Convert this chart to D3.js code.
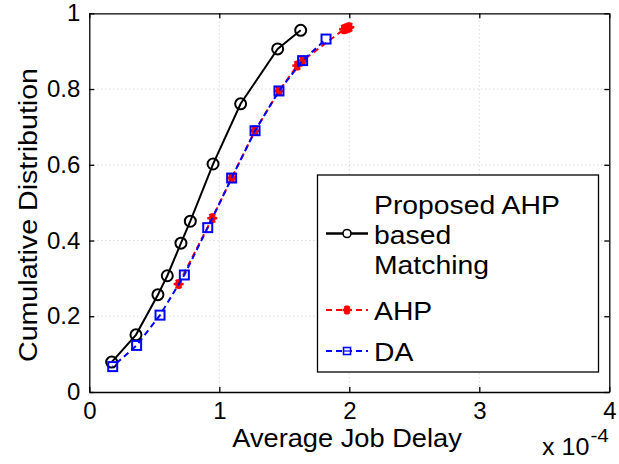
<!DOCTYPE html>
<html><head><meta charset="utf-8">
<script src="https://cdn.jsdelivr.net/npm/d3@7"></script>
<style>body{margin:0;background:#fff}svg{display:block}text{font-family:"Liberation Sans",Arial,sans-serif;fill:#000}</style>
</head><body><svg id="c" width="619" height="464"></svg>
<script>
const xTicks = [0, 1, 2, 3, 4];
const yTicks = [0, 0.2, 0.4, 0.6, 0.8, 1];
const yTickLabels = ["0", "0.2", "0.4", "0.6", "0.8", "1"];
const proposedX = [0.172, 0.359, 0.528, 0.600, 0.705, 0.777, 0.952, 1.164, 1.449, 1.626];
const proposedY = [0.079, 0.151, 0.257, 0.307, 0.393, 0.451, 0.602, 0.761, 0.906, 0.955];
const ahpX = [0.687, 0.946, 1.095, 1.275, 1.459, 1.600, 1.641, 1.960, 1.975, 1.990, 2.000];
const ahpY = [0.285, 0.459, 0.565, 0.690, 0.795, 0.862, 0.875, 0.958, 0.960, 0.962, 0.963];
const daX = [0.180, 0.364, 0.544, 0.731, 0.911, 1.095, 1.275, 1.459, 1.641, 1.821];
const daY = [0.067, 0.123, 0.203, 0.309, 0.434, 0.565, 0.690, 0.795, 0.875, 0.932];
const seriesNames = ["Proposed AHP based Matching", "AHP", "DA"];
const xLabel = "Average Job Delay";
const yLabel = "Cumulative Distribution";

const svg = d3.select("#c");
const L = 89.3, R = 609.3, T = 13.3, B = 392;
const x = d3.scaleLinear().domain([0, 4]).range([L, R]);
const y = d3.scaleLinear().domain([0, 1]).range([B, T]);
const SX = 1.09;

// grid
const g = svg.append("g");
g.selectAll(".gx").data(xTicks.slice(1, -1)).join("line")
  .attr("x1", d => x(d)).attr("x2", d => x(d)).attr("y1", T).attr("y2", B)
  .attr("stroke", "#c8c8c8").attr("stroke-width", 1).attr("stroke-dasharray", "1,3");
g.selectAll(".gy").data(yTicks.slice(1, -1)).join("line")
  .attr("y1", d => y(d)).attr("y2", d => y(d)).attr("x1", L).attr("x2", R)
  .attr("stroke", "#c8c8c8").attr("stroke-width", 1).attr("stroke-dasharray", "1,3");

// axes (inward ticks, box)
const tl = 5;
const axB = svg.append("g").attr("transform", `translate(0,${B})`)
  .call(d3.axisBottom(x).tickValues(xTicks).tickSizeInner(-tl).tickSizeOuter(0).tickPadding(10).tickFormat(d3.format("d")));
const axT = svg.append("g").attr("transform", `translate(0,${T})`)
  .call(d3.axisTop(x).tickValues(xTicks).tickSizeInner(-tl).tickSizeOuter(0).tickFormat(""));
const axL = svg.append("g").attr("transform", `translate(${L},0)`)
  .call(d3.axisLeft(y).tickValues(yTicks).tickSizeInner(-tl).tickSizeOuter(0).tickPadding(9).tickFormat((d, i) => yTickLabels[i]));
const axR = svg.append("g").attr("transform", `translate(${R},0)`)
  .call(d3.axisRight(y).tickValues(yTicks).tickSizeInner(-tl).tickSizeOuter(0).tickFormat(""));
[axB, axT, axL, axR].forEach(a => {
  a.select(".domain").attr("stroke", "#000").attr("stroke-width", 1.3);
  a.selectAll(".tick line").attr("stroke", "#000").attr("stroke-width", 1.3);
  a.selectAll("text").attr("font-size", 24).attr("fill", "#000").style("font-family", '"Liberation Sans",Arial,sans-serif');
});
axB.selectAll(".tick text").attr("dy", "0.7em");

// labels
svg.append("text").attr("transform", `translate(347,447) scale(${SX},1)`).attr("text-anchor", "middle")
  .attr("font-size", 25).text(xLabel);
svg.append("text").attr("transform", `translate(37,215) rotate(-90) scale(1.1,1)`).attr("text-anchor", "middle")
  .attr("font-size", 26).text(yLabel);
const ex = svg.append("text").attr("transform", `translate(542,455) scale(${SX},1)`).attr("font-size", 23);
ex.append("tspan").text("x 10");
ex.append("tspan").attr("dx", 1).attr("dy", -13).attr("font-size", 19).text("-4");

const line = d3.line().x(d => x(d[0])).y(d => y(d[1]));
const proposed = proposedX.map((v, i) => [v, proposedY[i]]);
const ahp = ahpX.map((v, i) => [v, ahpY[i]]);
const da = daX.map((v, i) => [v, daY[i]]);

function star(sel, cx, cy, r, color) {
  const gg = sel.append("g").attr("transform", `translate(${cx},${cy})`);
  gg.append("circle").attr("r", r * 0.7).attr("fill", color);
  [0, 60, 120].forEach(a => {
    const rad = a * Math.PI / 180;
    gg.append("line").attr("x1", -r * Math.cos(rad)).attr("y1", -r * Math.sin(rad))
      .attr("x2", r * Math.cos(rad)).attr("y2", r * Math.sin(rad))
      .attr("stroke", color).attr("stroke-width", 2.5);
  });
  gg.append("line").attr("x1", 0).attr("y1", -r).attr("x2", 0).attr("y2", r).attr("stroke", color).attr("stroke-width", 2.5);
}

// black
svg.append("path").datum(proposed).attr("d", line).attr("fill", "none").attr("stroke", "#000").attr("stroke-width", 2);
svg.selectAll(".pc").data(proposed).join("circle").attr("cx", d => x(d[0])).attr("cy", d => y(d[1]))
  .attr("r", 5.5).attr("fill", "none").attr("stroke", "#000").attr("stroke-width", 2);
// red
svg.append("path").datum(ahp).attr("d", line).attr("fill", "none").attr("stroke", "#ff0000").attr("stroke-width", 2)
  .attr("stroke-dasharray", "6,4");
const rg = svg.append("g");
ahp.forEach(d => star(rg, x(d[0]), y(d[1]), 5, "#ff0000"));
// blue
svg.append("path").datum(da).attr("d", line).attr("fill", "none").attr("stroke", "#0000ff").attr("stroke-width", 2)
  .attr("stroke-dasharray", "6,4").attr("stroke-dashoffset", 5);
svg.selectAll(".ds").data(da).join("rect").attr("x", d => x(d[0]) - 4.5).attr("y", d => y(d[1]) - 4.5)
  .attr("width", 9).attr("height", 9).attr("fill", "none").attr("stroke", "#0000ff").attr("stroke-width", 2);

// legend
const lg = svg.append("g");
lg.append("rect").attr("x", 317.5).attr("y", 175).attr("width", 281).attr("height", 197)
  .attr("fill", "#fff").attr("stroke", "#000").attr("stroke-width", 1.3);
const lx1 = 326, lx2 = 368, lm = 347, tx = 374;
function ltext(s, yy) {
  lg.append("text").attr("transform", `translate(${tx},${yy}) scale(${SX},1)`).attr("font-size", 26).text(s);
}
// entry 1
lg.append("line").attr("x1", lx1).attr("x2", lx2).attr("y1", 233.5).attr("y2", 233.5).attr("stroke", "#000").attr("stroke-width", 2.5);
lg.append("circle").attr("cx", lm).attr("cy", 233.5).attr("r", 4).attr("fill", "#fff").attr("stroke", "#000").attr("stroke-width", 1.6);
["Proposed AHP", "based", "Matching"].forEach((s, i) => ltext(s, 214 + i * 30));
// entry 2
lg.append("line").attr("x1", lx1).attr("x2", lx2).attr("y1", 310).attr("y2", 310).attr("stroke", "#ff0000").attr("stroke-width", 2).attr("stroke-dasharray", "6,4");
star(lg, lm, 310, 4.5, "#ff0000");
ltext(seriesNames[1], 319.5);
// entry 3
lg.append("line").attr("x1", lx1).attr("x2", lx2).attr("y1", 351).attr("y2", 351).attr("stroke", "#0000ff").attr("stroke-width", 2).attr("stroke-dasharray", "6,4");
lg.append("rect").attr("x", lm - 3.5).attr("y", 347.5).attr("width", 7).attr("height", 7).attr("fill", "#fff").attr("stroke", "#0000ff").attr("stroke-width", 1.6);
lg.append("line").attr("x1", lm - 3).attr("x2", lm + 3).attr("y1", 351).attr("y2", 351).attr("stroke", "#0000ff").attr("stroke-width", 1.2);
ltext(seriesNames[2], 360.5);
</script></body></html>
